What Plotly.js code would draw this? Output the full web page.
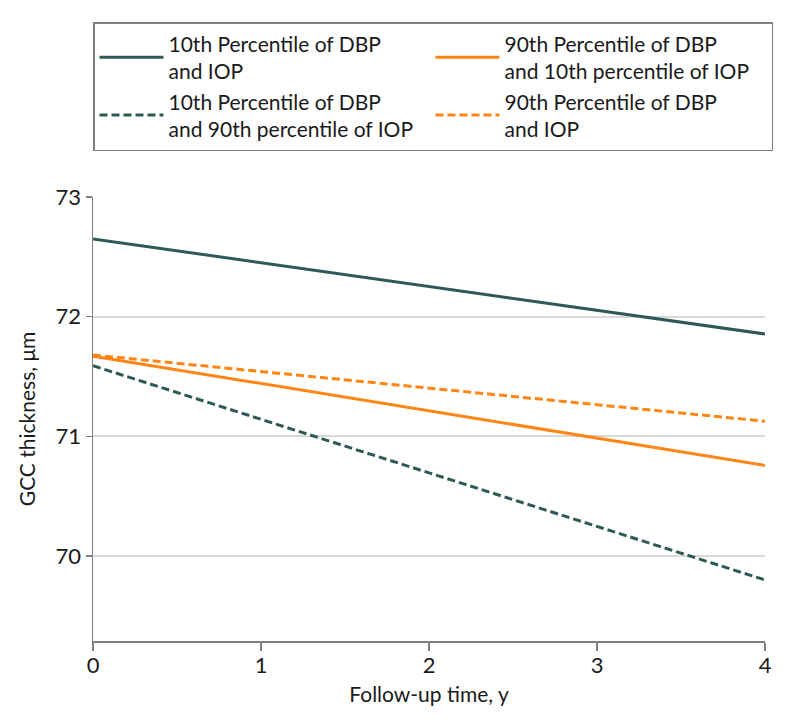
<!DOCTYPE html>
<html>
<head>
<meta charset="utf-8">
<script src="https://cdn.plot.ly/plotly-3.0.1.min.js"></script>
<style>
  html, body { margin: 0; padding: 0; background: white; }
  #chart { width: 794px; height: 724px; }
</style>
</head>
<body>
<div id="chart"></div>
<script>
// Follow-up time (years) and GCC thickness
var years = [0, 4];

var lowDbpLowIop   = [72.65, 71.855];
var highDbpLowIop  = [71.67, 70.757];
var lowDbpHighIop  = [71.59, 69.80];
var highDbpHighIop = [71.68, 71.126];

var seriesNames = [
  '10th Percentile of DBP<br>and IOP',
  '90th Percentile of DBP<br>and 10th percentile of IOP',
  '10th Percentile of DBP<br>and 90th percentile of IOP',
  '90th Percentile of DBP<br>and IOP'
];

var yTicks = [70, 71, 72, 73];
var xTicks = [0, 1, 2, 3, 4];

var teal = '#2d5a56';
var orange = '#ff8514';
var font = 'Lato, Roboto, sans-serif';

function line(y, name, color, dash) {
  return {
    x: years, y: y, name: name, mode: 'lines', type: 'scatter',
    line: {color: color, width: 3, dash: dash},
    hoverinfo: 'skip'
  };
}

// order gives the 2x2 legend: solid pair on top row, dashed pair below
var traces = [
  line(lowDbpLowIop,   seriesNames[0], teal,   'solid'),
  line(highDbpLowIop,  seriesNames[1], orange, 'solid'),
  line(lowDbpHighIop,  seriesNames[2], teal,   '8px,4px'),
  line(highDbpHighIop, seriesNames[3], orange, '8px,4px')
];

var layout = {
  width: 794, height: 724,
  margin: {l: 93, r: 29, t: 197, b: 83},
  paper_bgcolor: 'white', plot_bgcolor: 'white',
  font: {family: font, size: 21, color: '#1a1a1a'},
  showlegend: true,
  legend: {
    orientation: 'h',
    x: 0, xanchor: 'left',
    y: 1.394, yanchor: 'top',
    entrywidth: 0.5, entrywidthmode: 'fraction',
    itemwidth: 64,
    bordercolor: '#7f7f7f', borderwidth: 1.5,
    font: {family: font, size: 21, color: '#1a1a1a'},
    tracegroupgap: 0
  },
  xaxis: {
    range: [0, 4],
    tickvals: xTicks,
    showgrid: false, zeroline: false,
    showline: true, linecolor: '#7f7f7f', linewidth: 1.5,
    ticks: 'outside', ticklen: 8, tickcolor: '#7f7f7f', tickwidth: 1.5,
    ticklabelstandoff: -4,
    tickfont: {family: font, size: 22},
    title: {text: 'Follow-up time, y', font: {family: font, size: 21}, standoff: 10}
  },
  yaxis: {
    range: [69.29, 73],
    tickvals: yTicks,
    showgrid: true, gridcolor: '#d9d9d9', gridwidth: 2,
    zeroline: false,
    showline: true, linecolor: '#7f7f7f', linewidth: 1.5,
    ticks: 'outside', ticklen: 6, tickcolor: '#7f7f7f', tickwidth: 1.5,
    tickfont: {family: font, size: 22},
    title: {text: 'GCC thickness, μm', font: {family: font, size: 21}, standoff: 14}
  }
};

Plotly.newPlot('chart', traces, layout, {displayModeBar: false, staticPlot: true});
</script>
</body>
</html>
